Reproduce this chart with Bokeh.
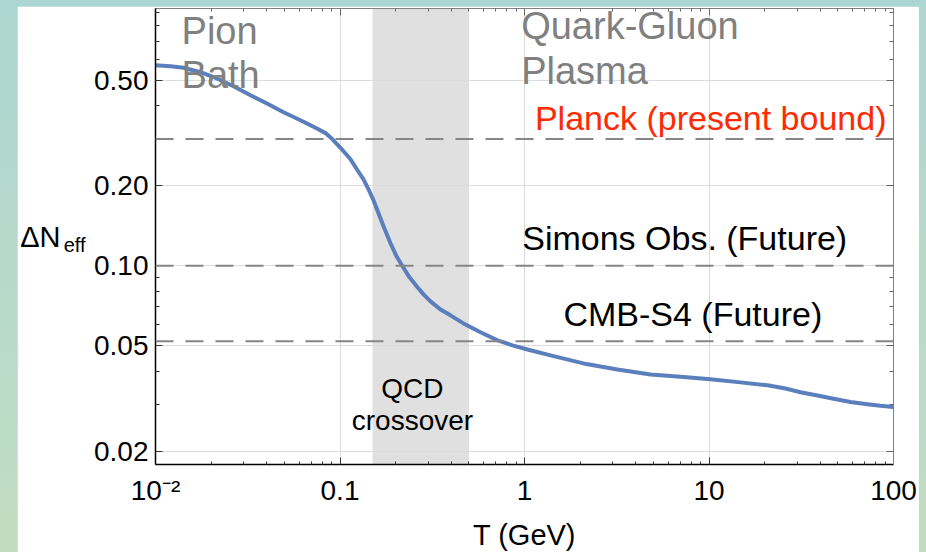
from bokeh.plotting import figure
from bokeh.models import Range1d, FixedTicker, LogAxis, Span, BoxAnnotation, Label
from bokeh.layouts import column
from bokeh.embed import file_html
from bokeh.resources import INLINE

# ---------------- data ----------------
T_vals = [0.01, 0.01206, 0.01419, 0.01753, 0.02168, 0.02648, 0.03272, 0.04046,
          0.0494, 0.06108, 0.07551, 0.08346, 0.09106, 0.1006, 0.114, 0.1244,
          0.1341, 0.1427, 0.1519, 0.1617, 0.1721, 0.1878, 0.2024, 0.2182,
          0.238, 0.263, 0.2836, 0.3094, 0.3505, 0.3971, 0.467, 0.5774, 0.7141,
          0.861, 1.038, 1.383, 2.088, 3.192, 4.818, 7.007, 10.19, 14.82, 20.75,
          25.98, 31.33, 38.73, 47.3, 58.48, 72.3, 85.04, 100.0]
dN_vals = [0.5693, 0.5644, 0.5572, 0.5358, 0.5064, 0.4746, 0.4389, 0.4076,
           0.3788, 0.3534, 0.3282, 0.3160, 0.2996, 0.2783, 0.2519, 0.2290,
           0.2118, 0.1942, 0.1765, 0.1577, 0.1409, 0.1216, 0.1086, 0.0996,
           0.0905, 0.0830, 0.0781, 0.0735, 0.0685, 0.0651, 0.0607, 0.0562, 0.0524,
           0.0502, 0.0484, 0.0460, 0.0429, 0.0407, 0.0390, 0.0382, 0.0374, 0.0364,
           0.0355, 0.0345, 0.0334, 0.0325, 0.0316, 0.0307, 0.0301, 0.0297, 0.0294]

bound_names = ["Planck (present bound)", "Simons Obs. (Future)", "CMB-S4 (Future)"]
bound_vals = [0.30, 0.10, 0.052]
bound_colors = ["#ff2a00", "#000000", "#000000"]

crossover_band = [0.15, 0.5]

x_ticks = [0.01, 0.1, 1.0, 10.0, 100.0]
x_tick_labels = ["10\u207b\u00b2", "0.1", "1", "10", "100"]
y_ticks = [0.02, 0.05, 0.1, 0.2, 0.5]
y_tick_labels = ["0.02", "0.05", "0.10", "0.20", "0.50"]

FONT = "Liberation Sans"

x_minor = [m * 10.0 ** e for e in range(-2, 2) for m in range(2, 10)]
y_minor = [m * 10.0 ** e for e in range(-2, 0) for m in range(2, 10)]

p = figure(frame_width=738, frame_height=456,
           x_axis_type="log", y_axis_type="log",
           x_range=Range1d(0.01, 100), y_range=Range1d(0.01786, 0.931),
           output_backend="svg", toolbar_location=None,
           min_border_left=138, min_border_right=26, min_border_top=2,
           min_border_bottom=85, border_fill_color="white",
           background_fill_color="white", outline_line_color="#808080",
           margin=(6, 7, 3, 17))

# grids
p.xgrid.ticker = FixedTicker(ticks=x_ticks)
p.ygrid.ticker = FixedTicker(ticks=y_ticks)
p.xgrid.grid_line_color = "#dcdcdc"
p.ygrid.grid_line_color = "#dcdcdc"

# bottom axis
xa = p.xaxis[0]
xa.ticker = FixedTicker(ticks=x_ticks, minor_ticks=x_minor)
xa.major_label_overrides = dict(zip(x_ticks, x_tick_labels))
xa.axis_label = "T (GeV)"
xa.axis_label_text_font = FONT
xa.axis_label_text_font_size = "29px"
xa.axis_label_text_font_style = "normal"
xa.axis_label_text_color = "black"
xa.axis_label_standoff = 10
xa.major_label_text_font = FONT
xa.major_label_text_font_size = "28px"
xa.major_label_text_color = "black"
xa.major_label_standoff = 10
xa.axis_line_color = "black"
xa.axis_line_width = 1.5
xa.major_tick_in = 7
xa.major_tick_out = 0
xa.minor_tick_in = 3
xa.minor_tick_out = 0
xa.major_tick_line_color = "#333333"
xa.minor_tick_line_color = "#333333"

# left axis
ya = p.yaxis[0]
ya.ticker = FixedTicker(ticks=y_ticks, minor_ticks=y_minor)
ya.major_label_overrides = dict(zip(y_ticks, y_tick_labels))
ya.major_label_text_font = FONT
ya.major_label_text_font_size = "28px"
ya.major_label_text_color = "black"
ya.major_label_standoff = 7
ya.axis_line_color = "black"
ya.axis_line_width = 1.5
ya.major_tick_in = 7
ya.major_tick_out = 0
ya.minor_tick_in = 4
ya.minor_tick_out = 0
ya.major_tick_line_color = "#333333"
ya.minor_tick_line_color = "#333333"

# y-axis title "ΔN_eff": two label-only axes, so the subscript sits lower
def title_axis(pos, text, size, standoff):
    return LogAxis(ticker=FixedTicker(ticks=[pos], minor_ticks=[]),
                   major_label_overrides={pos: text},
                   major_label_text_font=FONT, major_label_text_font_size=size,
                   major_label_text_color="black",
                   major_label_standoff=standoff, axis_line_color=None,
                   major_tick_line_color=None, minor_tick_line_color=None,
                   major_tick_in=0, major_tick_out=0,
                   minor_tick_in=0, minor_tick_out=0)

p.add_layout(title_axis(0.1198, "eff", "20px", 6), "left")
p.add_layout(title_axis(0.1286, "\u0394N", "29px", 0), "left")

# top and right axes (ticks only)
top = LogAxis(ticker=FixedTicker(ticks=x_ticks, minor_ticks=x_minor),
              major_label_text_font_size="1px", major_label_text_alpha=0,
              major_label_standoff=0,
              axis_line_color="#808080", major_tick_in=7, major_tick_out=0,
              minor_tick_in=3, minor_tick_out=0,
              major_tick_line_color="#666666", minor_tick_line_color="#666666")
p.add_layout(top, "above")
right = LogAxis(ticker=FixedTicker(ticks=y_ticks, minor_ticks=y_minor),
                major_label_text_font_size="1px", major_label_text_alpha=0,
                major_label_standoff=0,
                axis_line_color="#808080", major_tick_in=7, major_tick_out=0,
                minor_tick_in=4, minor_tick_out=0,
                major_tick_line_color="#666666", minor_tick_line_color="#666666")
p.add_layout(right, "right")

# QCD crossover band
p.add_layout(BoxAnnotation(left=crossover_band[0], right=crossover_band[1],
                           fill_color="#e0e0e0", fill_alpha=1.0,
                           line_color=None, level="image"))

# bound lines
for v in bound_vals:
    p.add_layout(Span(location=v, dimension="width", line_color="#858585",
                      line_width=2, line_dash="18 12"))

# curve
p.line(T_vals, dN_vals, line_color="#5b7fbc", line_width=4,
       line_join="round", line_cap="round")

def lab(x, y, text, size, color, align="left", **kw):
    p.add_layout(Label(x=x, y=y, text=text, text_font=FONT,
                       text_font_size=size, text_color=color,
                       text_align=align, text_baseline="alphabetic", **kw))

# region labels
lab(0.01384, 0.769, "Pion", "38px", "#808080")
lab(0.01384, 0.521, "Bath", "38px", "#808080")
lab(0.959, 0.801, "Quark-Gluon", "38px", "#808080")
lab(0.959, 0.542, "Plasma", "38px", "#808080")

# bound labels
lab(91.6, 0.360, bound_names[0], "34px", bound_colors[0], align="right")
lab(56.1, 0.1269, bound_names[1], "34px", bound_colors[1], align="right")
lab(41.1, 0.0657, bound_names[2], "34px", bound_colors[2], align="right")

# QCD crossover label
lab(0.247, 0.0344, "QCD", "28px", "black", align="center")
lab(0.247, 0.0261, "crossover", "28px", "black", align="center")

layout = column(p, styles={"background": "linear-gradient(180deg, #acd6d2 0%, #b6d9cb 45%, #c1ddc1 100%)"})

open("out.html", "w").write(file_html(layout, INLINE))
